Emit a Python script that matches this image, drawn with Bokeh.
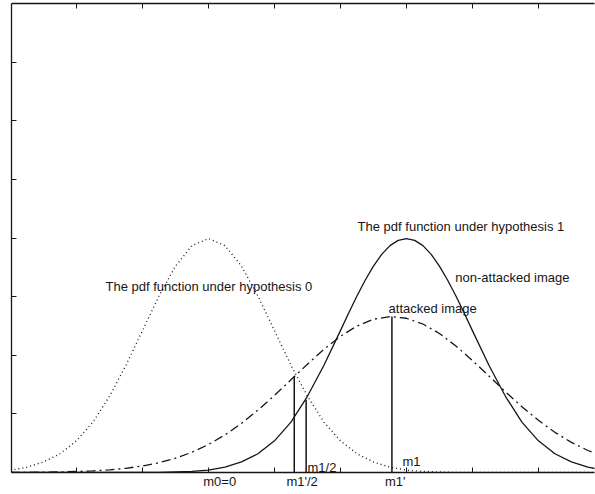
from bokeh.plotting import figure
from bokeh.models import Range1d, LinearAxis, FixedTicker, Label, ColumnDataSource
from bokeh.embed import file_html
from bokeh.resources import INLINE

# sample grid of the abscissa (in units of sigma)
x_grid = [-3.0, -2.75, -2.5, -2.25, -2.0, -1.75, -1.5, -1.25, -1.0, -0.75, -0.5, -0.25,
          0.0, 0.25, 0.5, 0.75, 1.0, 1.25, 1.5, 1.75, 2.0, 2.25, 2.5, 2.75,
          3.0, 3.25, 3.5, 3.75, 4.0, 4.25, 4.5, 4.75, 5.0, 5.25, 5.5, 5.75, 6.0]

# pdf under hypothesis 0 (dotted)
pdf_h0 = [0.004, 0.009, 0.018, 0.032, 0.054, 0.086, 0.130, 0.183, 0.242, 0.301, 0.352, 0.387,
          0.399, 0.387, 0.352, 0.301, 0.242, 0.183, 0.130, 0.086, 0.054, 0.032, 0.018, 0.009,
          0.004, 0.002, 0.001, 0.0, 0.0, 0.0, 0.0, 0.0, 0.0, 0.0, 0.0, 0.0, 0.0]

# finer grid for the narrow solid curve (denser around its peak)
x_grid_h1 = [-3.0, -2.75, -2.5, -2.25, -2.0, -1.75, -1.5, -1.25, -1.0, -0.75,
             -0.5, -0.25, 0.0, 0.25, 0.5, 0.75, 1.0, 1.25, 1.5, 1.75,
             2.0, 2.125, 2.25, 2.375, 2.5, 2.625, 2.75, 2.875, 3.0,
             3.125, 3.25, 3.375, 3.5, 3.625, 3.75, 3.875, 4.0,
             4.25, 4.5, 4.75, 5.0, 5.25, 5.5, 5.75, 6.0]

# pdf under hypothesis 1, non-attacked image (solid)
pdf_h1 = [0.0, 0.0, 0.0, 0.0, 0.0, 0.0, 0.0, 0.0, 0.0, 0.0,
          0.001, 0.002, 0.004, 0.009, 0.018, 0.032, 0.054, 0.086, 0.130, 0.183,
          0.242, 0.272, 0.301, 0.328, 0.352, 0.372, 0.387, 0.396, 0.399,
          0.396, 0.387, 0.372, 0.352, 0.328, 0.301, 0.272, 0.242,
          0.183, 0.130, 0.086, 0.054, 0.032, 0.018, 0.009, 0.004]

# pdf under hypothesis 1, attacked image (dash-dot)
pdf_h1_attacked = [0.0002, 0.0003, 0.0005, 0.0010, 0.0017, 0.0028, 0.0045, 0.0072, 0.0111, 0.0167,
                   0.0244, 0.0346, 0.0478, 0.0641, 0.0838, 0.1065, 0.1315, 0.1581, 0.1848, 0.2101,
                   0.2324, 0.2499, 0.2614, 0.2660, 0.2631, 0.2533, 0.2371, 0.2158, 0.1911, 0.1646,
                   0.1378, 0.1123, 0.0890, 0.0685, 0.0514, 0.0375, 0.0266]

# vertical marker lines: m1'/2, m1/2, m1'
marker_x = [1.30, 1.48, 2.78]
marker_top = [0.164, 0.124, 0.266]
marker_base = [0.0, 0.0, 0.0]

x_ticks = [-2, -1, 0, 1, 2, 3, 4, 5]
y_ticks = [0.1, 0.2, 0.3, 0.4, 0.5, 0.6, 0.7]
bottom_label_pos = [0.17, 1.42, 2.83]
bottom_labels = ["m0=0", "m1'/2", "m1'"]

FONT = "Liberation Sans"
INK = "#161616"

p = figure(frame_width=583, frame_height=469,
           x_range=Range1d(-2.985, 5.85), y_range=Range1d(0, 0.8),
           output_backend="svg", toolbar_location=None,
           min_border_left=11, min_border_right=1, min_border_top=3, min_border_bottom=0)
p.outline_line_color = None
p.xgrid.grid_line_color = None
p.ygrid.grid_line_color = None
p.background_fill_color = "white"
p.border_fill_color = "white"

top_axis = LinearAxis()
p.add_layout(top_axis, "above")


def style_axis(ax, major, minor):
    ax.ticker = FixedTicker(ticks=major, minor_ticks=minor)
    ax.major_tick_in = 0
    ax.major_tick_out = 0
    ax.minor_tick_in = 5
    ax.minor_tick_out = 0
    ax.major_label_standoff = 1
    ax.axis_line_color = INK
    ax.axis_line_width = 1.3
    ax.major_tick_line_color = INK
    ax.minor_tick_line_color = INK
    ax.minor_tick_line_width = 1
    ax.major_label_text_font = FONT
    ax.major_label_text_font_size = "13px"
    ax.major_label_text_color = INK


bottom_axis = p.below[0]
left_axis = p.left[0]
style_axis(bottom_axis, bottom_label_pos, x_ticks)
bottom_axis.major_label_overrides = dict(zip(bottom_label_pos, bottom_labels))
style_axis(top_axis, [], x_ticks)
style_axis(left_axis, [], y_ticks)

p.line(x_grid, pdf_h0, line_color=INK, line_width=1.3, line_dash="1 3")
p.line(x_grid_h1, pdf_h1, line_color=INK, line_width=1.3)
p.line(x_grid, pdf_h1_attacked, line_color=INK, line_width=1.3, line_dash="9 4 2 4")

src = ColumnDataSource(dict(x=marker_x, y0=marker_base, y1=marker_top))
p.segment(x0="x", y0="y0", x1="x", y1="y1", source=src, line_color=INK, line_width=1.5)


def lab(x, y, t):
    p.add_layout(Label(x=x, y=y, text=t, text_font=FONT, text_font_size="13px",
                       text_color=INK, text_baseline="alphabetic", text_align="left"))


lab(-1.56, 0.317, "The pdf function under hypothesis 0")
lab(2.26, 0.420, "The pdf function under hypothesis 1")
lab(3.74, 0.333, "non-attacked image")
lab(2.73, 0.280, "attacked image")
lab(1.50, 0.0085, "m1/2")
lab(2.94, 0.019, "m1")

open("out.html", "w").write(file_html(p, INLINE))
